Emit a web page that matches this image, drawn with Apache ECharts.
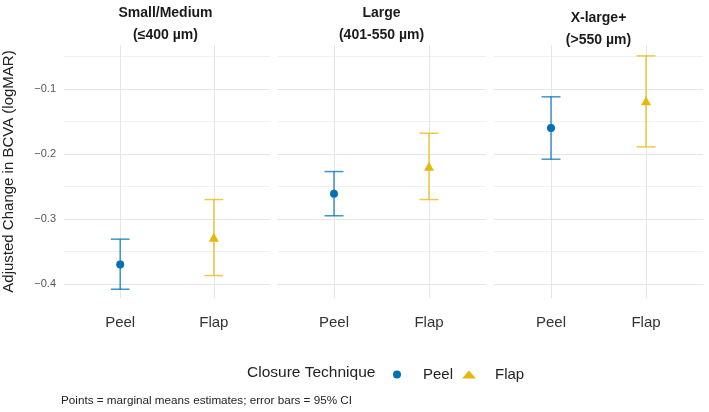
<!DOCTYPE html>
<html>
<head>
<meta charset="utf-8">
<script src="https://cdn.jsdelivr.net/npm/echarts@6/dist/echarts.min.js"></script>
<style>
html,body{margin:0;padding:0;background:#fff;}
#chart{width:709px;height:412px;}
</style>
</head>
<body>
<div id="chart"></div>
<script>
// ---- data ----
const categories = ['Peel', 'Flap'];
const panels = ['Small/Medium\n(≤400 µm)', 'Large\n(401-550 µm)', 'X-large+\n(>550 µm)'];
const peelEst  = [-0.370, -0.261, -0.160];
const peelLow  = [-0.408, -0.295, -0.208];
const peelHigh = [-0.331, -0.227, -0.112];
const flapEst  = [-0.328, -0.219, -0.118];
const flapLow  = [-0.387, -0.270, -0.189];
const flapHigh = [-0.270, -0.168, -0.049];
const yMajor = [-0.4, -0.3, -0.2, -0.1];
const yMinor = [-0.35, -0.25, -0.15, -0.05];
const yTitle = 'Adjusted Change in BCVA (logMAR)';
const legendTitle = 'Closure Technique';
const caption = 'Points = marginal means estimates; error bars = 95% CI';

// ---- styling ----
const FONT = '"Liberation Sans", Arial, Helvetica, sans-serif';
const BLUE = '#0072B2';
const GOLD = '#E6B80B';
const panelLefts = [61, 277, 494];
const panelWidth = 209;
const panelTop = 45, panelHeight = 253;
const yMin = -0.4215, yMax = -0.0323;

const chart = echarts.init(document.getElementById('chart'), null, {renderer: 'canvas'});

const grids = [], xAxes = [], yAxes = [], series = [], graphics = [];

function errRender(params, api) {
  const x = api.value(0), lo = api.value(1), hi = api.value(2);
  const pLo = api.coord([x, lo]);
  const pHi = api.coord([x, hi]);
  const hw = api.size([0.2, 0])[0] / 2;
  const style = {stroke: api.visual('color'), lineWidth: 1.5, opacity: 0.75};
  return {
    type: 'group',
    children: [
      {type: 'line', shape: {x1: pLo[0], y1: pLo[1], x2: pHi[0], y2: pHi[1]}, style: style},
      {type: 'line', shape: {x1: pLo[0] - hw, y1: pLo[1], x2: pLo[0] + hw, y2: pLo[1]}, style: style},
      {type: 'line', shape: {x1: pHi[0] - hw, y1: pHi[1], x2: pHi[0] + hw, y2: pHi[1]}, style: style}
    ]
  };
}

panels.forEach((p, i) => {
  grids.push({left: panelLefts[i], top: panelTop, width: panelWidth, height: panelHeight, containLabel: false});
  xAxes.push({
    type: 'value', gridIndex: i, min: 0.4, max: 2.6,
    axisLine: {show: false}, axisTick: {show: false}, splitLine: {show: false},
    axisLabel: {
      show: true, customValues: categories.map((c, k) => k + 1),
      formatter: v => categories[Math.round(v) - 1] || '',
      fontSize: 15, color: '#333', fontFamily: FONT, margin: 17
    }
  });
  yAxes.push({
    type: 'value', gridIndex: i, min: yMin, max: yMax,
    axisLine: {show: false}, axisTick: {show: false}, splitLine: {show: false},
    axisLabel: {
      show: i === 0, customValues: yMajor,
      formatter: v => (v < 0 ? '\u2212' : '') + Math.abs(v).toFixed(1),
      fontSize: 11, color: '#555', fontFamily: FONT, margin: 8
    },
    name: i === 0 ? yTitle : '', nameLocation: 'middle', nameGap: 48,
    nameTextStyle: {fontSize: 15, color: '#222', fontFamily: FONT}
  });
  // gridlines
  series.push({
    type: 'line', xAxisIndex: i, yAxisIndex: i, data: [], silent: true,
    markLine: {
      silent: true, symbol: 'none', z: 1, animation: false,
      label: {show: false},
      data: [
        ...yMinor.map(v => ({yAxis: v, lineStyle: {color: '#f1f1f1', width: 1, type: 'solid'}})),
        ...yMajor.map(v => ({yAxis: v, lineStyle: {color: '#e6e6e6', width: 1, type: 'solid'}})),
        ...categories.map((c, k) => ({xAxis: k + 1, lineStyle: {color: '#e6e6e6', width: 1, type: 'solid'}}))
      ]
    }
  });
  // error bars
  series.push({
    type: 'custom', name: 'Peel CI', xAxisIndex: i, yAxisIndex: i, z: 3,
    itemStyle: {color: BLUE}, renderItem: errRender, silent: true,
    data: [[1, peelLow[i], peelHigh[i]]], encode: {x: 0, y: [1, 2]}
  });
  series.push({
    type: 'custom', name: 'Flap CI', xAxisIndex: i, yAxisIndex: i, z: 3,
    itemStyle: {color: GOLD}, renderItem: errRender, silent: true,
    data: [[2, flapLow[i], flapHigh[i]]], encode: {x: 0, y: [1, 2]}
  });
  // points
  series.push({
    type: 'scatter', name: 'Peel', xAxisIndex: i, yAxisIndex: i, z: 4,
    symbol: 'circle', symbolSize: 8, itemStyle: {color: BLUE, opacity: 1},
    data: [[1, peelEst[i]]]
  });
  series.push({
    type: 'scatter', name: 'Flap', xAxisIndex: i, yAxisIndex: i, z: 4,
    symbol: 'triangle', symbolSize: [10, 9], itemStyle: {color: GOLD, opacity: 1},
    data: [[2, flapEst[i]]]
  });
  // panel strip titles
  graphics.push({
    type: 'text', x: panelLefts[i] + panelWidth / 2, y: i === 2 ? 7 : 2,
    style: {
      text: p, textAlign: 'center', textVerticalAlign: 'top',
      font: 'bold 14px ' + FONT, lineHeight: 22, fill: '#1a1a1a'
    }
  });
});

graphics.push({
  type: 'text', x: 247, y: 373,
  style: {text: legendTitle, textAlign: 'left', textVerticalAlign: 'middle', font: '15.5px ' + FONT, fill: '#222'}
});
graphics.push({
  type: 'text', x: 61, y: 401,
  style: {text: caption, textAlign: 'left', textVerticalAlign: 'middle', font: '11.7px ' + FONT, fill: '#222'}
});

chart.setOption({
  animation: false,
  backgroundColor: '#fff',
  textStyle: {fontFamily: FONT},
  grid: grids,
  xAxis: xAxes,
  yAxis: yAxes,
  legend: {
    show: true, left: 388, top: 362, orient: 'horizontal',
    itemWidth: 14, itemHeight: 8, itemGap: 9,
    data: [
      {name: 'Peel', icon: 'circle'},
      {name: 'Flap', icon: 'triangle'}
    ],
    textStyle: {fontSize: 15, color: '#222', fontFamily: FONT, padding: [0, 0, 0, 14]},
    selectedMode: false
  },
  graphic: graphics,
  series: series
});
</script>
</body>
</html>
